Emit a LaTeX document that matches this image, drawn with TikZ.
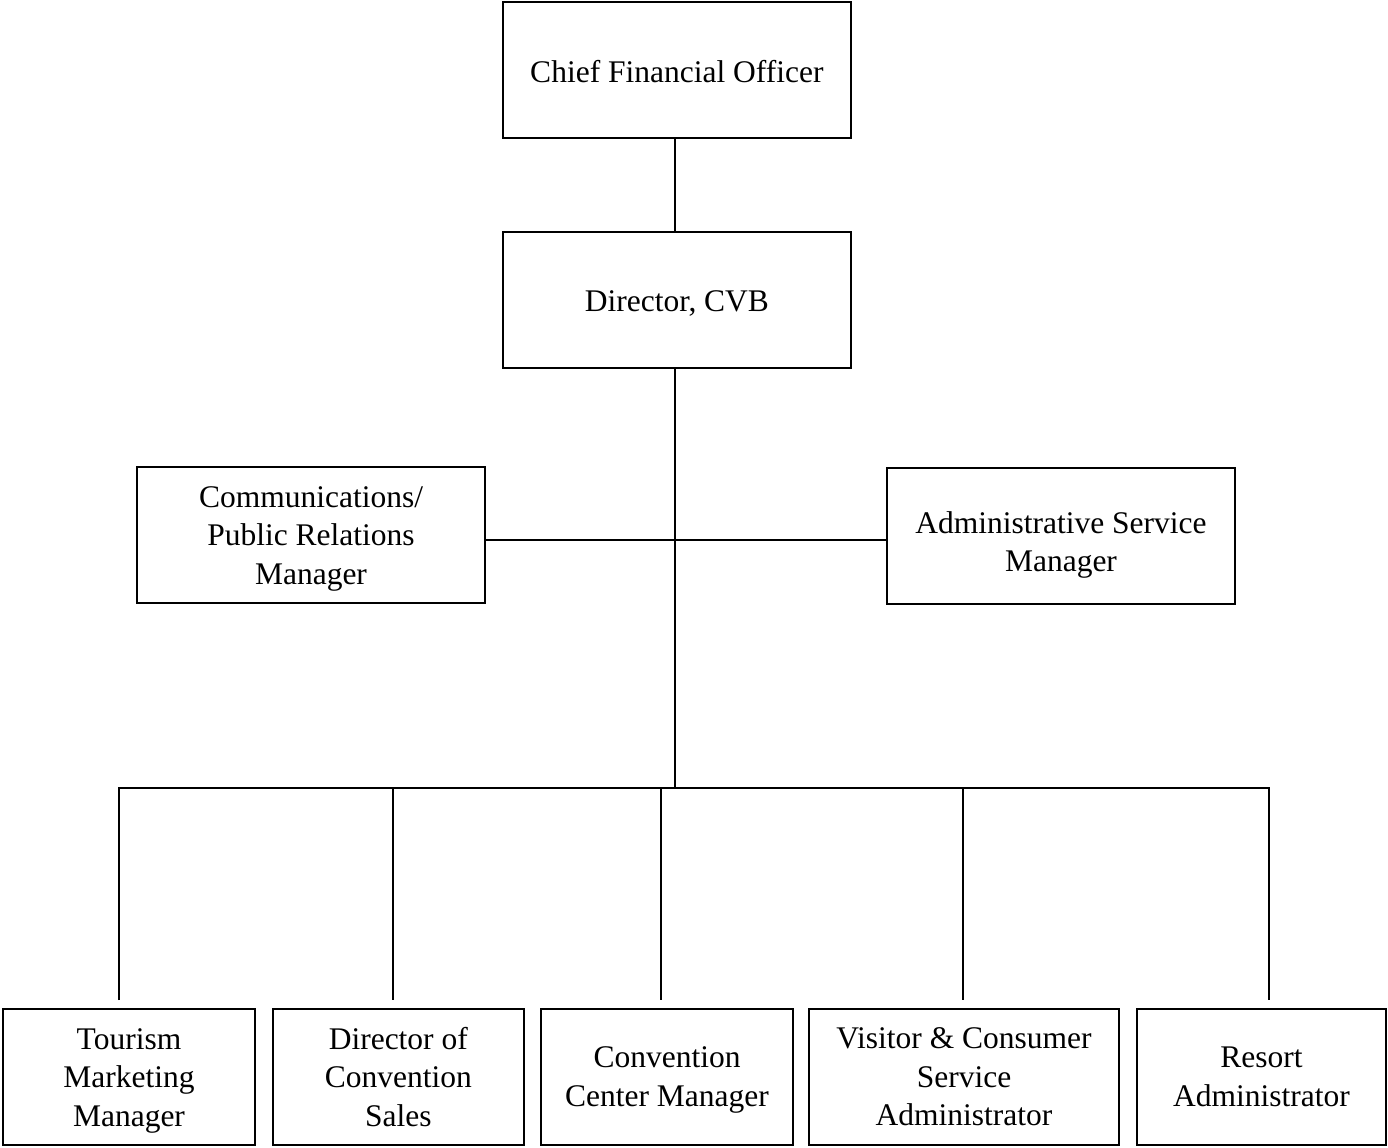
\documentclass[tikz,border=0pt]{standalone}
\usepackage{fontspec}
\setmainfont{Liberation Serif}
\begin{document}
\begin{tikzpicture}[x=0.5pt,y=-0.5pt,
  box/.style={draw, line width=1pt, inner sep=0pt, minimum height=68pt},
  txt/.style={inner sep=0pt, align=center, font=\fontsize{15.75}{19.25}\selectfont},
  link/.style={line width=1pt}]
\useasboundingbox (0,0) rectangle (1388,1147);

% top of the chart
\node[box, minimum width=174.2pt] (cfo) at (676.9,69.8) {};
\node[txt] (cfo-t) at ([yshift=-1pt]cfo.center) {Chief Financial Officer};
\node[box, minimum width=174.2pt] (dir) at (676.9,299.8) {};
\node[txt] (dir-t) at ([yshift=-2pt]dir.center) {Director, CVB};

% staff positions beside the trunk
\node[box, minimum width=174pt] (comm) at (311,535) {};
\node[txt] (comm-t) at ([yshift=-1.8pt]comm.center) {Communications/\\Public Relations\\Manager};
\node[box, minimum width=174pt] (admin) at (1061,535.5) {};
\node[txt] (admin-t) at ([yshift=-4.7pt]admin.center) {Administrative Service\\Manager};

% line positions
\node[box, minimum width=126pt] (tour) at (129,1077) {};
\node[txt] (tour-t) at ([yshift=-1.8pt]tour.center) {Tourism\\Marketing\\Manager};
\node[box, minimum width=125.3pt] (dcs) at (398.3,1077) {};
\node[txt] (dcs-t) at (dcs.center) {Director of\\Convention\\Sales};
\node[box, minimum width=126pt] (ccm) at (667,1077) {};
\node[txt] (ccm-t) at ([yshift=-1.5pt]ccm.center) {Convention\\Center Manager};
\node[box, minimum width=155pt] (vis) at (964,1077) {};
\node[txt] (vis-t) at (vis.center) {Visitor \& Consumer\\Service\\Administrator};
\node[box, minimum width=124.5pt] (res) at (1261.5,1077) {};
\node[txt] (res-t) at (res.center) {Resort\\Administrator};

% junctions and drop ends
\coordinate (staff) at (675,540);
\coordinate (bus)   at (675,788);
\coordinate (b1) at (118.5,788);  \coordinate (e1) at (118.5,1000);
\coordinate (b2) at (393,788);    \coordinate (e2) at (393,1000);
\coordinate (b3) at (661,788);    \coordinate (e3) at (661,1000);
\coordinate (b4) at (962.5,788);  \coordinate (e4) at (962.5,1000);
\coordinate (b5) at (1269,788);   \coordinate (e5) at (1269,1000);

% connectors
\draw[link] (cfo.south -| bus) -- (dir.north -| bus);
\draw[link] (dir.south -| bus) -- (bus);
\draw[link] (comm.east |- staff) -- (admin.west |- staff);
\draw[link] (e1) -- (b1) -- (b5) -- (e5);
\draw[link] (b2) -- (e2);
\draw[link] (b3) -- (e3);
\draw[link] (b4) -- (e4);
\end{tikzpicture}
\end{document}
